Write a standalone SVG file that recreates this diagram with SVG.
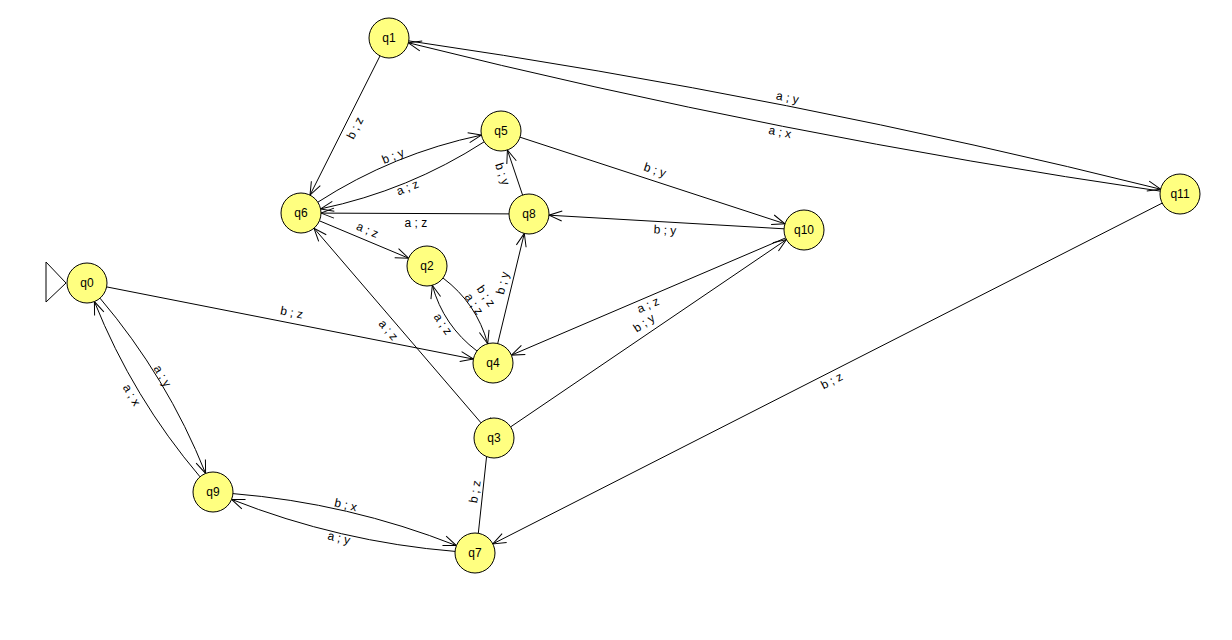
<svg xmlns="http://www.w3.org/2000/svg" width="1232" height="640" viewBox="0 0 1232 640">
<style>
.st{fill:#ffff80;stroke:#000;stroke-width:1}
.sl{font-family:"Liberation Sans",Arial,sans-serif;font-size:12px;fill:#000;text-anchor:middle}
.e{fill:none;stroke:#000;stroke-width:1;marker-end:url(#ah)}
.el{font-family:"Liberation Sans",Arial,sans-serif;font-size:12px;fill:#000;text-anchor:middle}
</style>
<defs>
<marker id="ah" markerUnits="userSpaceOnUse" orient="auto" markerWidth="16" markerHeight="14" viewBox="-14 -7 16 14" refX="0" refY="0" overflow="visible">
<path d="M-13,-5 L0,0 L-13,5" fill="none" stroke="#000" stroke-width="1"/>
</marker>
</defs>
<rect width="1232" height="640" fill="#fff"/>
<g id="connectors">
<path class="e" d="M380,55.9 L310,195.1"/>
<path class="e" d="M317.8,202.2 Q393.4,153.5 481.4,135.1"/>
<path class="e" d="M484.2,141.8 Q408.6,190.5 320.6,208.9"/>
<path class="e" d="M509,213.9 L321,213.1"/>
<path class="e" d="M319.4,220.8 L408.6,258.2"/>
<path class="e" d="M522.6,195.1 L507.4,150"/>
<path class="e" d="M520,137.2 L785,223.8"/>
<path class="e" d="M784,228.8 L549,215.2"/>
<path class="e" d="M497.7,343.6 L524.3,233.4"/>
<path class="e" d="M443,278 Q476.5,303.2 487.7,343.7"/>
<path class="e" d="M477,351 Q443.5,325.8 432.3,285.3"/>
<path class="e" d="M106.6,286.9 L473.4,359.1"/>
<path class="e" d="M481,422.8 L314,228.2"/>
<path class="e" d="M785.6,237.9 L511.4,355.1"/>
<path class="e" d="M510.6,426.9 L786.4,239.6"/>
<path class="e" d="M100,298.2 Q167.1,377.2 205.6,473.4"/>
<path class="e" d="M200,476.8 Q132.9,397.8 94.4,301.6"/>
<path class="e" d="M232.9,493.6 Q348.5,503 456.4,545.6"/>
<path class="e" d="M455.1,551.4 Q339.5,542 231.6,499.4"/>
<path class="e" d="M478.3,533.3 L490.7,418.3"/>
<path class="e" d="M1162.2,203.1 L492.8,543.9"/>
<path class="e" d="M408.8,40.9 Q788.4,96.4 1160.6,189.2"/>
<path class="e" d="M1160.2,191.1 Q780.6,135.6 408.4,42.8"/>
<text class="el" transform="translate(355,128) rotate(-63.3)" y="4">b ; z</text>
<text class="el" transform="translate(393,156) rotate(-22.3)" y="4">b ; y</text>
<text class="el" transform="translate(407.5,187.5) rotate(-22.3)" y="4">a ; z</text>
<text class="el" transform="translate(415.8,223)" y="4">a ; z</text>
<text class="el" transform="translate(367.5,230) rotate(22.8)" y="4">a ; z</text>
<text class="el" transform="translate(502.5,174) rotate(71.4)" y="4">b ; y</text>
<text class="el" transform="translate(655,170) rotate(18.1)" y="4">b ; y</text>
<text class="el" transform="translate(665,230) rotate(3.3)" y="4">b ; y</text>
<text class="el" transform="translate(502.5,283) rotate(-76.4)" y="4">b ; y</text>
<text class="el" transform="translate(486,296) rotate(55.8)" y="4">b ; z</text>
<text class="el" transform="translate(474,304) rotate(55.8)" y="4">a ; z</text>
<text class="el" transform="translate(443,324) rotate(55.8)" y="4">a ; z</text>
<text class="el" transform="translate(291.7,312.5) rotate(11.1)" y="4">b ; z</text>
<text class="el" transform="translate(388.3,330) rotate(49.4)" y="4">a ; z</text>
<text class="el" transform="translate(648,305) rotate(-23.2)" y="4">a ; z</text>
<text class="el" transform="translate(644,323) rotate(-33.9)" y="4">b ; y</text>
<text class="el" transform="translate(162.5,376) rotate(58.9)" y="4">a ; y</text>
<text class="el" transform="translate(131.7,395) rotate(58.9)" y="4">a ; x</text>
<text class="el" transform="translate(345.8,505) rotate(13.1)" y="4">b ; x</text>
<text class="el" transform="translate(339,538) rotate(13.1)" y="4">a ; y</text>
<text class="el" transform="translate(475,491.7) rotate(-80.6)" y="4">b ; z</text>
<text class="el" transform="translate(831.7,380.8) rotate(-27)" y="4">b ; z</text>
<text class="el" transform="translate(787.5,97.5) rotate(11.2)" y="4">a ; y</text>
<text class="el" transform="translate(780,132) rotate(11.2)" y="4">a ; x</text>
</g>
<g id="start"><polygon points="46,262 66,283 46,302" fill="#fff" stroke="#000"/></g>
<g id="q0"><circle class="st" cx="87" cy="283" r="20"/><text class="sl" x="87" y="287">q0</text></g>
<g id="q1"><circle class="st" cx="389" cy="38" r="20"/><text class="sl" x="389" y="42">q1</text></g>
<g id="q2"><circle class="st" cx="427" cy="266" r="20"/><text class="sl" x="427" y="270">q2</text></g>
<g id="q3"><circle class="st" cx="494" cy="438" r="20"/><text class="sl" x="494" y="442">q3</text></g>
<g id="q4"><circle class="st" cx="493" cy="363" r="20"/><text class="sl" x="493" y="367">q4</text></g>
<g id="q5"><circle class="st" cx="501" cy="131" r="20"/><text class="sl" x="501" y="135">q5</text></g>
<g id="q6"><circle class="st" cx="301" cy="213" r="20"/><text class="sl" x="301" y="217">q6</text></g>
<g id="q7"><circle class="st" cx="475" cy="553" r="20"/><text class="sl" x="475" y="557">q7</text></g>
<g id="q8"><circle class="st" cx="529" cy="214" r="20"/><text class="sl" x="529" y="218">q8</text></g>
<g id="q9"><circle class="st" cx="213" cy="492" r="20"/><text class="sl" x="213" y="496">q9</text></g>
<g id="q10"><circle class="st" cx="804" cy="230" r="20"/><text class="sl" x="804" y="234">q10</text></g>
<g id="q11"><circle class="st" cx="1180" cy="194" r="20"/><text class="sl" x="1180" y="198">q11</text></g>
</svg>
